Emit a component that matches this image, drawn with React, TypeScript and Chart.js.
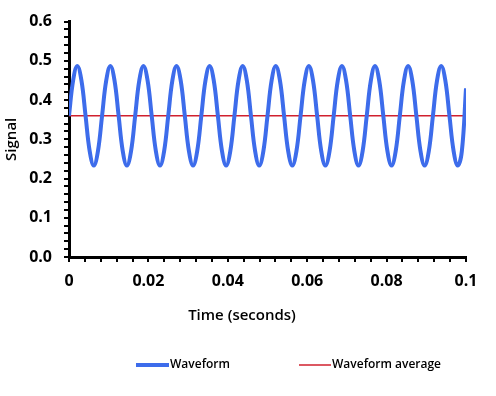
import React, { useEffect, useRef } from "react";
import { Chart, registerables } from "chart.js";

Chart.register(...registerables);

const seriesNames = ["Waveform", "Waveform average"];
const xTickLabels = ["0", "0.02", "0.04", "0.06", "0.08", "0.1"];
const yTickLabels = ["0.0", "0.1", "0.2", "0.3", "0.4", "0.5", "0.6"];
const xAxisTitle = "Time (seconds)";
const yAxisTitle = "Signal";

const waveTimes = [
  0, 0.00104, 0.00208, 0.00313, 0.00417, 0.00521, 0.00625, 0.00729,
  0.00833, 0.00938, 0.01042, 0.01146, 0.0125, 0.01354, 0.01458, 0.01563,
  0.01667, 0.01771, 0.01875, 0.01979, 0.02083, 0.02188, 0.02292, 0.02396,
  0.025, 0.02604, 0.02708, 0.02813, 0.02917, 0.03021, 0.03125, 0.03229,
  0.03333, 0.03438, 0.03542, 0.03646, 0.0375, 0.03854, 0.03958, 0.04063,
  0.04167, 0.04271, 0.04375, 0.04479, 0.04583, 0.04688, 0.04792, 0.04896,
  0.05, 0.05104, 0.05208, 0.05313, 0.05417, 0.05521, 0.05625, 0.05729,
  0.05833, 0.05938, 0.06042, 0.06146, 0.0625, 0.06354, 0.06458, 0.06563,
  0.06667, 0.06771, 0.06875, 0.06979, 0.07083, 0.07188, 0.07292, 0.07396,
  0.075, 0.07604, 0.07708, 0.07813, 0.07917, 0.08021, 0.08125, 0.08229,
  0.08333, 0.08438, 0.08542, 0.08646, 0.0875, 0.08854, 0.08958, 0.09063,
  0.09167, 0.09271, 0.09375, 0.09479, 0.09583, 0.09688, 0.09792, 0.09896,
  0.1,
];

const waveValues = [
  0.36, 0.45, 0.487, 0.45, 0.36, 0.27, 0.233, 0.27,
  0.36, 0.45, 0.487, 0.45, 0.36, 0.27, 0.233, 0.27,
  0.36, 0.45, 0.487, 0.45, 0.36, 0.27, 0.233, 0.27,
  0.36, 0.45, 0.487, 0.45, 0.36, 0.27, 0.233, 0.27,
  0.36, 0.45, 0.487, 0.45, 0.36, 0.27, 0.233, 0.27,
  0.36, 0.45, 0.487, 0.45, 0.36, 0.27, 0.233, 0.27,
  0.36, 0.45, 0.487, 0.45, 0.36, 0.27, 0.233, 0.27,
  0.36, 0.45, 0.487, 0.45, 0.36, 0.27, 0.233, 0.27,
  0.36, 0.45, 0.487, 0.45, 0.36, 0.27, 0.233, 0.27,
  0.36, 0.45, 0.487, 0.45, 0.36, 0.27, 0.233, 0.27,
  0.36, 0.45, 0.487, 0.45, 0.36, 0.27, 0.233, 0.27,
  0.36, 0.45, 0.487, 0.45, 0.36, 0.27, 0.233, 0.27,
  0.43,
];

const averageTimes = [0, 0.1];
const averageValues = [0.36, 0.36];

const xMinorTicks = [
  0, 0.004, 0.008, 0.012, 0.016, 0.02, 0.024, 0.028, 0.032, 0.036, 0.04,
  0.044, 0.048, 0.052, 0.056, 0.06, 0.064, 0.068, 0.072, 0.076, 0.08, 0.084,
  0.088, 0.092, 0.096, 0.1,
];
const yMinorTicks = [
  0, 0.02, 0.04, 0.06, 0.08, 0.1, 0.12, 0.14, 0.16, 0.18, 0.2, 0.22, 0.24,
  0.26, 0.28, 0.3, 0.32, 0.34, 0.36, 0.38, 0.4, 0.42, 0.44, 0.46, 0.48, 0.5,
  0.52, 0.54, 0.56, 0.58, 0.6,
];

const BLUE = "#3D6CEB";
const RED = "#D0202E";
const FONT = '"Open Sans", "DejaVu Sans", sans-serif';

const overlayPlugin = {
  id: "overlayText",
  afterDraw(chart: any) {
    const ctx = chart.ctx;
    ctx.save();
    // x axis title, centred on the canvas like the reference
    ctx.font = `600 15px ${FONT}`;
    ctx.fillStyle = "#000";
    ctx.textAlign = "center";
    ctx.textBaseline = "middle";
    ctx.fillText(xAxisTitle, 242, 316);

    // legend
    const y = 365;
    const items = [
      { x: 136, len: 33, color: BLUE, width: 4, label: chart.data.datasets[0].label },
      { x: 299, len: 32, color: RED, width: 1.5, label: chart.data.datasets[1].label },
    ];
    ctx.font = `600 12px ${FONT}`;
    ctx.textAlign = "left";
    for (const it of items) {
      ctx.strokeStyle = it.color;
      ctx.lineWidth = it.width;
      ctx.beginPath();
      ctx.moveTo(it.x, y);
      ctx.lineTo(it.x + it.len, y);
      ctx.stroke();
      ctx.fillStyle = "#000";
      ctx.fillText(it.label, it.x + it.len + 1, y);
    }
    ctx.restore();
  },
};

export default function App() {
  const ref = useRef<HTMLCanvasElement>(null);

  useEffect(() => {
    document.body.style.margin = "0";
    const canvas = ref.current!;
    const chart = new Chart(canvas, {
      type: "line",
      data: {
        datasets: [
          {
            label: seriesNames[0],
            data: waveTimes.map((t, i) => ({ x: t, y: waveValues[i] })),
            borderColor: BLUE,
            backgroundColor: BLUE,
            borderWidth: 4,
            pointRadius: 0,
            tension: 0.4,
            fill: false,
          },
          {
            label: seriesNames[1],
            data: averageTimes.map((t, i) => ({ x: t, y: averageValues[i] })),
            borderColor: RED,
            backgroundColor: RED,
            borderWidth: 1.5,
            pointRadius: 0,
            tension: 0,
            fill: false,
          },
        ],
      },
      options: {
        animation: false,
        responsive: false,
        maintainAspectRatio: false,
        layout: { padding: { top: 18, right: 30, bottom: 60, left: 0 } },
        plugins: {
          legend: { display: false },
          tooltip: { enabled: false },
        },
        scales: {
          x: {
            type: "linear",
            min: 0,
            max: 0.1,
            afterBuildTicks: (scale: any) => {
              scale.ticks = xMinorTicks.map((v) => ({ value: v }));
            },
            afterFit: (scale: any) => {
              scale.height = 79;
            },
            ticks: {
              autoSkip: false,
              maxRotation: 0,
              padding: 10,
              color: "#000",
              font: { family: FONT, size: 16, weight: "bold" },
              callback: (_v: any, i: number) => (i % 5 === 0 ? xTickLabels[i / 5] : ""),
            },
            grid: {
              display: true,
              drawOnChartArea: false,
              drawTicks: true,
              tickLength: 5,
              color: "#000",
              lineWidth: 2,
            },
            border: { display: true, color: "#000", width: 3 },
            title: { display: false },
          },
          y: {
            type: "linear",
            min: 0,
            max: 0.6,
            afterBuildTicks: (scale: any) => {
              scale.ticks = yMinorTicks.map((v) => ({ value: v }));
            },
            afterFit: (scale: any) => {
              scale.width = 69;
            },
            ticks: {
              autoSkip: false,
              padding: 12,
              color: "#000",
              font: { family: FONT, size: 16, weight: "bold" },
              callback: (_v: any, i: number) => (i % 5 === 0 ? yTickLabels[i / 5] : ""),
            },
            grid: {
              display: true,
              drawOnChartArea: false,
              drawTicks: true,
              tickLength: 5,
              color: "#000",
              lineWidth: 2,
            },
            border: { display: true, color: "#000", width: 3 },
            title: {
              display: true,
              text: yAxisTitle,
              color: "#000",
              font: { family: FONT, size: 15, weight: "600" },
              padding: { top: 3, bottom: 0 },
            },
          },
        },
      },
      plugins: [overlayPlugin],
    });
    return () => chart.destroy();
  }, []);

  return (
    <div style={{ width: 496, height: 396, background: "#fff" }}>
      <canvas ref={ref} width={496} height={396} style={{ display: "block" }} />
    </div>
  );
}
